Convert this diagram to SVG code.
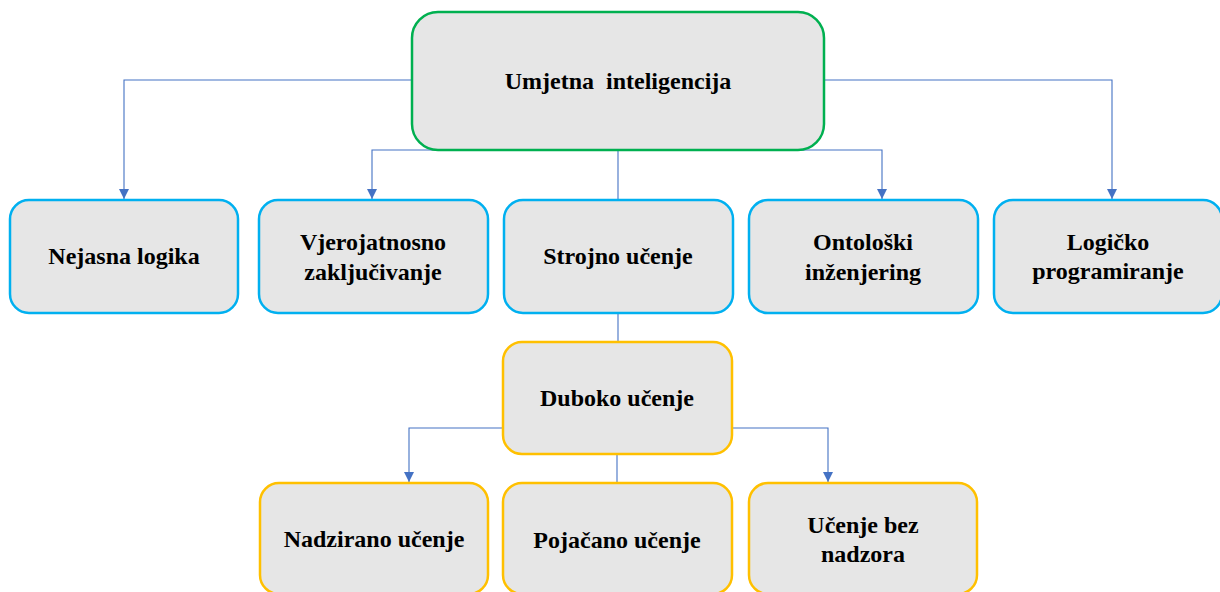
<svg xmlns="http://www.w3.org/2000/svg" width="1220" height="592" viewBox="0 0 1220 592">
<style>
.box{fill:#E6E6E6;stroke-width:2.5}
.g{stroke:#00B050}
.b{stroke:#00B0F0}
.y{stroke:#FFC000}
.c{fill:none;stroke:#4472C4;stroke-width:1.1}
</style>
<defs>
<marker id="arr" viewBox="0 0 10 10" refX="10" refY="5" markerWidth="10" markerHeight="10" markerUnits="userSpaceOnUse" orient="auto">
<path d="M0,0 L10,5 L0,10 z" fill="#4472C4"/>
</marker>
</defs>
<g id="connectors">
<path class="c" d="M412,80 H124 V199" marker-end="url(#arr)"/>
<path class="c" d="M824,80 H1112 V199" marker-end="url(#arr)"/>
<path class="c" d="M618,150 H372 V199" marker-end="url(#arr)"/>
<path class="c" d="M618,150 H882 V199" marker-end="url(#arr)"/>
<path class="c" d="M618,150 V200"/>
<path class="c" d="M618,313 V342"/>
<path class="c" d="M503,428 H409 V482" marker-end="url(#arr)"/>
<path class="c" d="M732,428 H828 V482" marker-end="url(#arr)"/>
<path class="c" d="M617,454 V483"/>
</g>
<g id="nodes" font-family="Liberation Serif" font-weight="bold" font-size="24" fill="#000" text-anchor="middle">
<g id="n-ai">
<rect class="box g" x="412" y="12" width="412" height="138" rx="26"/>
<text x="618" y="89" xml:space="preserve">Umjetna  inteligencija</text>
</g>
<g id="n-nejasna">
<rect class="box b" x="10" y="200" width="228" height="113" rx="19"/>
<text x="124" y="264">Nejasna logika</text>
</g>
<g id="n-vjer">
<rect class="box b" x="259" y="200" width="229" height="113" rx="19"/>
<text x="373" y="250">Vjerojatnosno</text>
<text x="373" y="280">zaključivanje</text>
</g>
<g id="n-strojno">
<rect class="box b" x="504" y="200" width="229" height="113" rx="19"/>
<text x="618" y="264">Strojno učenje</text>
</g>
<g id="n-onto">
<rect class="box b" x="749" y="200" width="229" height="113" rx="19"/>
<text x="863" y="250">Ontološki</text>
<text x="863" y="280">inženjering</text>
</g>
<g id="n-logicko">
<rect class="box b" x="994" y="200" width="228" height="113" rx="19"/>
<text x="1108" y="250">Logičko</text>
<text x="1108" y="279">programiranje</text>
</g>
<g id="n-duboko">
<rect class="box y" x="503" y="342" width="229" height="112" rx="19"/>
<text x="617" y="406">Duboko učenje</text>
</g>
<g id="n-nadzirano">
<rect class="box y" x="260" y="483" width="228" height="111" rx="19"/>
<text x="374" y="547">Nadzirano učenje</text>
</g>
<g id="n-pojacano">
<rect class="box y" x="503" y="483" width="229" height="111" rx="19"/>
<text x="617" y="548">Pojačano učenje</text>
</g>
<g id="n-bez">
<rect class="box y" x="749" y="483" width="228" height="111" rx="19"/>
<text x="863" y="533">Učenje bez</text>
<text x="863" y="562">nadzora</text>
</g>
</g>
</svg>
